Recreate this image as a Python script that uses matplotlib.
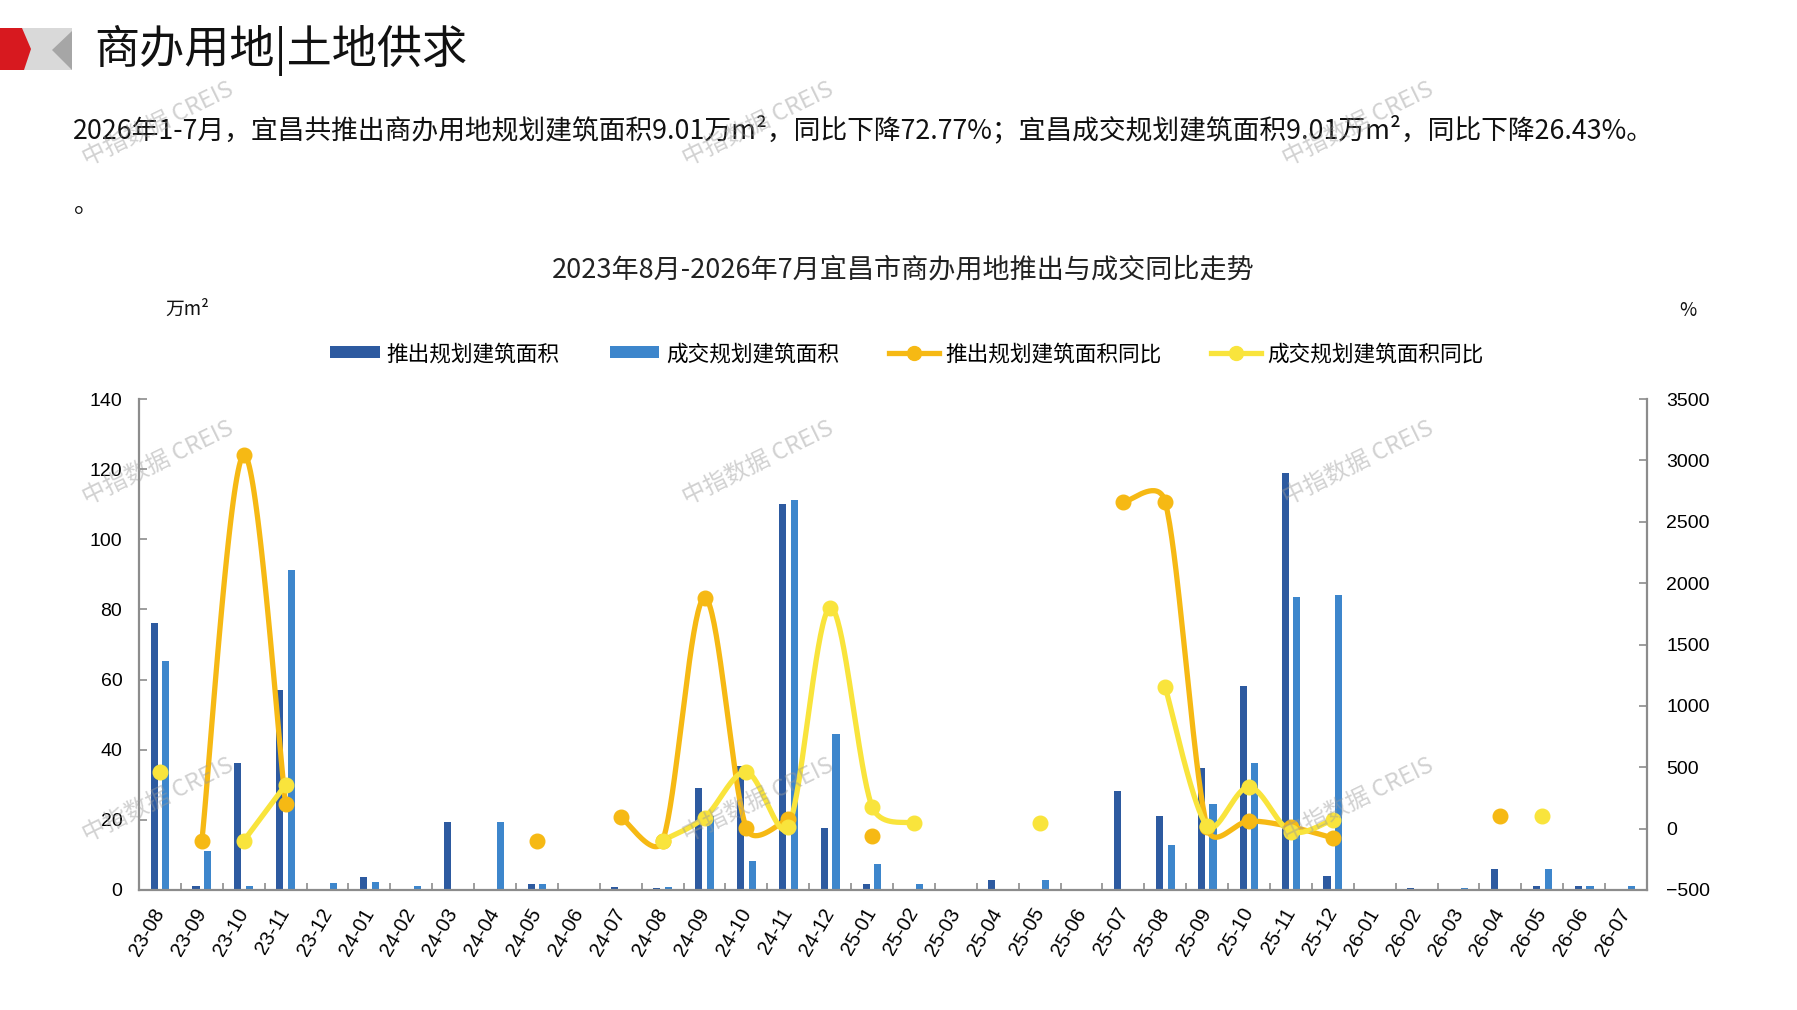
import numpy as np
import matplotlib
matplotlib.use("Agg")
import matplotlib.pyplot as plt
from matplotlib.lines import Line2D
from matplotlib.patches import Polygon, Patch

plt.rcParams['font.family'] = ['Noto Sans CJK SC', 'DejaVu Sans']

# ---------------- data ----------------
months = ["23-08", "23-09", "23-10", "23-11", "23-12",
          "24-01", "24-02", "24-03", "24-04", "24-05", "24-06", "24-07",
          "24-08", "24-09", "24-10", "24-11", "24-12",
          "25-01", "25-02", "25-03", "25-04", "25-05", "25-06", "25-07",
          "25-08", "25-09", "25-10", "25-11", "25-12",
          "26-01", "26-02", "26-03", "26-04", "26-05", "26-06", "26-07"]

launch_area = [76.1, 1.2, 36.3, 57.1, 0.0,
               3.7, 0.0, 19.4, 0.0, 1.7, 0.0, 0.8,
               0.5, 29.2, 35.4, 110.2, 17.7,
               1.7, 0.0, 0.0, 2.9, 0.0, 0.0, 28.3,
               21.1, 34.7, 58.1, 118.8, 4.1,
               0.0, 0.6, 0.0, 6.1, 1.2, 1.0, 0.0]

deal_area = [65.3, 11.2, 1.2, 91.2, 2.1,
             2.4, 1.0, 0.0, 19.4, 1.7, 0.0, 0.0,
             0.8, 21.2, 8.2, 111.3, 44.6,
             7.4, 1.7, 0.0, 0.0, 2.9, 0.0, 0.0,
             12.7, 24.6, 36.1, 83.5, 84.2,
             0.0, 0.0, 0.6, 0.0, 6.0, 1.0, 1.0]

launch_yoy = [None, -100, 3045, 200, None,
              None, None, None, None, -100, None, 95,
              -99, 1880, 3, 78, None,
              -58, None, None, None, None, None, 2660,
              2660, 10, 62, 15, -76,
              None, None, None, 100, None, None, None]

deal_yoy = [460, None, -100, 357, None,
            None, None, None, None, None, None, None,
            -97, 90, 462, 12, 1800,
            180, 45, None, None, 45, None, None,
            1150, 20, 340, -25, 72,
            None, None, None, None, 100, None, None]

left_ticks = [0, 20, 40, 60, 80, 100, 120, 140]
right_ticks = [-500, 0, 500, 1000, 1500, 2000, 2500, 3000, 3500]

series_names = ["推出规划建筑面积", "成交规划建筑面积", "推出规划建筑面积同比", "成交规划建筑面积同比"]

# ---------------- style ----------------
C_DARK = "#2D5AA0"
C_LIGHT = "#3D86CC"
C_ORANGE = "#F6B914"
C_YELLOW = "#F9E43C"
C_AXIS = "#8C8C8C"
NUMFONT = "Liberation Sans"


def smooth_screen(axis, xs, ys, n=40):
    """Excel-like smoothed line: Bezier through points, computed in display space."""
    P = axis.transData.transform(np.column_stack([xs, ys]).astype(float))
    m = len(P)
    t = np.linspace(0, 1, n)[:, None]
    out = []
    nrm = np.linalg.norm
    for i in range(m - 1):
        p1, p2 = P[i], P[i + 1]
        p0 = P[i - 1] if i > 0 else P[i]
        p3 = P[i + 2] if i + 2 < m else P[i + 1]
        dseg = nrm(p2 - p1)
        d0 = nrm(p1 - p0)
        d3 = nrm(p3 - p2)
        s1 = min(1.0, np.sqrt(2 * dseg / (d0 + dseg))) if d0 > 0 else 1.0
        s2 = min(1.0, np.sqrt(2 * dseg / (d3 + dseg))) if d3 > 0 else 1.0
        c1 = p1 + (p2 - p0) / 6.0 * s1
        c2 = p2 - (p3 - p1) / 6.0 * s2
        b = (1 - t) ** 3 * p1 + 3 * (1 - t) ** 2 * t * c1 + 3 * (1 - t) * t ** 2 * c2 + t ** 3 * p2
        out.append(b)
    curve = np.vstack(out)
    return axis.transData.inverted().transform(curve)


def segments(vals):
    segs, cur = [], []
    for i, v in enumerate(vals):
        if v is None:
            if cur:
                segs.append(cur)
            cur = []
        else:
            cur.append(i)
    if cur:
        segs.append(cur)
    return segs


fig = plt.figure(figsize=(17.97, 10.10), dpi=100)
W, H = 1797.0, 1010.0

# logo
fig.patches.append(Polygon([(0, 1 - 28 / H), (72 / W, 1 - 28 / H), (72 / W, 1 - 70 / H),
                            (22 / W, 1 - 70 / H)], closed=True, transform=fig.transFigure,
                           facecolor="#D9D9D9", edgecolor="none"))
fig.patches.append(Polygon([(52 / W, 1 - 50 / H), (72 / W, 1 - 31 / H), (72 / W, 1 - 70 / H)],
                           closed=True, transform=fig.transFigure, facecolor="#A6A6A6", edgecolor="none"))
fig.patches.append(Polygon([(0, 1 - 28 / H), (22 / W, 1 - 28 / H), (31 / W, 1 - 49 / H),
                            (24 / W, 1 - 70 / H), (0, 1 - 70 / H)], closed=True,
                           transform=fig.transFigure, facecolor="#D7191F", edgecolor="none"))

fig.text(94 / W, 1 - 50 / H, "商办用地|土地供求", fontsize=32.5, va="center", ha="left", color="#111111")
fig.text(73 / W, 1 - 130 / H,
         "2026年1-7月，宜昌共推出商办用地规划建筑面积9.01万m²，同比下降72.77%；宜昌成交规划建筑面积9.01万m²，同比下降26.43%。",
         fontsize=19.3, va="center", ha="left", color="#111111")
fig.text(74 / W, 1 - 205 / H, "。", fontsize=18, va="center", ha="left", color="#111111")
fig.text(903 / W, 1 - 270 / H, "2023年8月-2026年7月宜昌市商办用地推出与成交同比走势",
         fontsize=19.5, va="center", ha="center", color="#222222")
fig.text(187 / W, 1 - 309 / H, "万m²", fontsize=13.5, va="center", ha="center", color="#111111")
fig.text(1688 / W, 1 - 311 / H, "%", fontsize=13.5, va="center", ha="center", color="#111111")

# axes
ax = fig.add_axes([139 / W, 1 - 890 / H, (1647 - 139) / W, (890 - 399) / H])
ax2 = ax.twinx()

x = np.arange(len(months))
bw = 0.17
ax.bar(x - 0.14, launch_area, bw, color=C_DARK, zorder=2)
ax.bar(x + 0.14, deal_area, bw, color=C_LIGHT, zorder=2)
ax.set_xlim(-0.5, len(months) - 0.5)
ax.set_ylim(left_ticks[0], left_ticks[-1])
ax.set_yticks(left_ticks)
ax2.set_xlim(-0.5, len(months) - 0.5)
ax2.set_ylim(right_ticks[0], right_ticks[-1])
ax2.set_yticks(right_ticks)

for vals, col in ((launch_yoy, C_ORANGE), (deal_yoy, C_YELLOW)):
    for seg in segments(vals):
        xs = np.array(seg, dtype=float)
        ys = np.array([vals[i] for i in seg], dtype=float)
        if len(seg) > 1:
            c = smooth_screen(ax2, xs, ys)
            ax2.plot(c[:, 0], c[:, 1], color=col, lw=3.8, solid_capstyle="round", zorder=3)
        ax2.plot(xs, ys, "o", color=col, ms=10.5, zorder=4)

# ticks / spines
ax.set_xticks(x)
ax.set_xticklabels(months, rotation=60, ha="right", va="center", rotation_mode="anchor",
                   fontsize=14.5, fontfamily=NUMFONT)
ax.set_xticks(np.arange(0.5, len(months) - 1, 1.0), minor=True)
ax.tick_params(axis="x", which="major", length=0, pad=14)
ax.tick_params(axis="x", which="minor", direction="in", length=5, width=1.2, color=C_AXIS)
ax.tick_params(axis="y", direction="in", length=6, width=1.2, color=C_AXIS, pad=12, labelsize=14)
ax2.tick_params(axis="y", direction="in", length=6, width=1.2, color=C_AXIS, pad=14, labelsize=14)
for lab in ax.get_yticklabels() + ax2.get_yticklabels():
    lab.set_fontfamily(NUMFONT)

for a in (ax, ax2):
    a.spines["top"].set_visible(False)
ax.spines["right"].set_visible(False)
ax2.spines["left"].set_visible(False)
ax2.spines["bottom"].set_visible(False)
ax.spines["left"].set_color(C_AXIS)
ax.spines["bottom"].set_color(C_AXIS)
ax2.spines["right"].set_color(C_AXIS)
for s in (ax.spines["left"], ax.spines["bottom"], ax2.spines["right"]):
    s.set_linewidth(1.6)

# legend
handles = [Patch(facecolor=C_DARK, edgecolor="none"),
           Patch(facecolor=C_LIGHT, edgecolor="none"),
           Line2D([], [], color=C_ORANGE, lw=3.8, marker="o", ms=10),
           Line2D([], [], color=C_YELLOW, lw=3.8, marker="o", ms=10)]
fig.legend(handles, series_names, loc="center", bbox_to_anchor=(907 / W, 1 - 354 / H),
           ncol=4, frameon=False, fontsize=15.6, handlelength=2.3, handleheight=0.5,
           handletextpad=0.3, columnspacing=2.3)

# watermarks
for wx in (158, 758, 1358):
    for wy in (124, 463, 800):
        fig.text(wx / W, 1 - wy / H, "中指数据 CREIS", fontsize=17, rotation=26,
                 ha="center", va="center", color="#9A9A9A", alpha=0.45, zorder=10)

fig.savefig("out.png", dpi=100)
